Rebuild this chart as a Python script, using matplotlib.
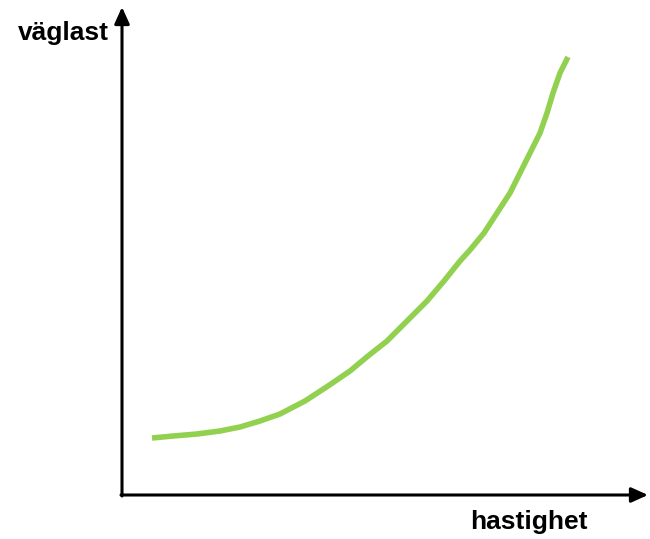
import matplotlib
matplotlib.use("Agg")
import matplotlib.pyplot as plt

# conceptual curve: road load vs speed (arbitrary units)
hastighet = [30, 51, 75, 98, 118, 138, 158, 183, 206, 228, 246, 265, 285, 305,
             322, 338, 348, 362, 375, 388, 398, 408, 418, 425, 431, 438, 446]
vaglast = [57, 59, 61, 64, 68, 74, 81, 94, 109, 124, 139, 154, 174, 194,
           214, 234, 245, 262, 282, 302, 322, 342, 362, 382, 402, 422, 438]

x_label = "hastighet"
y_label = "väglast"

plt.rcParams['font.family'] = ['Liberation Sans', 'DejaVu Sans']

fig = plt.figure(figsize=(6.5, 5.39), dpi=100)
ax = fig.add_axes([0, 0, 1, 1])
ax.set_xlim(-122, 528)
ax.set_ylim(-44, 495)
ax.axis('off')

ax.plot(hastighet, vaglast, color='#92D050', lw=4, solid_capstyle='butt',
        solid_joinstyle='round')

arrow = dict(arrowstyle='-|>,head_length=1.0,head_width=0.45', color='black', lw=2.2,
             shrinkA=0, shrinkB=0)
ax.annotate('', xy=(526, 0), xytext=(-1, 0), arrowprops=arrow)
ax.annotate('', xy=(0, 488), xytext=(0, -1), arrowprops=arrow)

ax.text(-59, 462, y_label, fontsize=19, fontweight='bold', ha='center', va='center')
ax.text(407, -27, x_label, fontsize=19, fontweight='bold', ha='center', va='center')

fig.savefig('out.png', dpi=100)
